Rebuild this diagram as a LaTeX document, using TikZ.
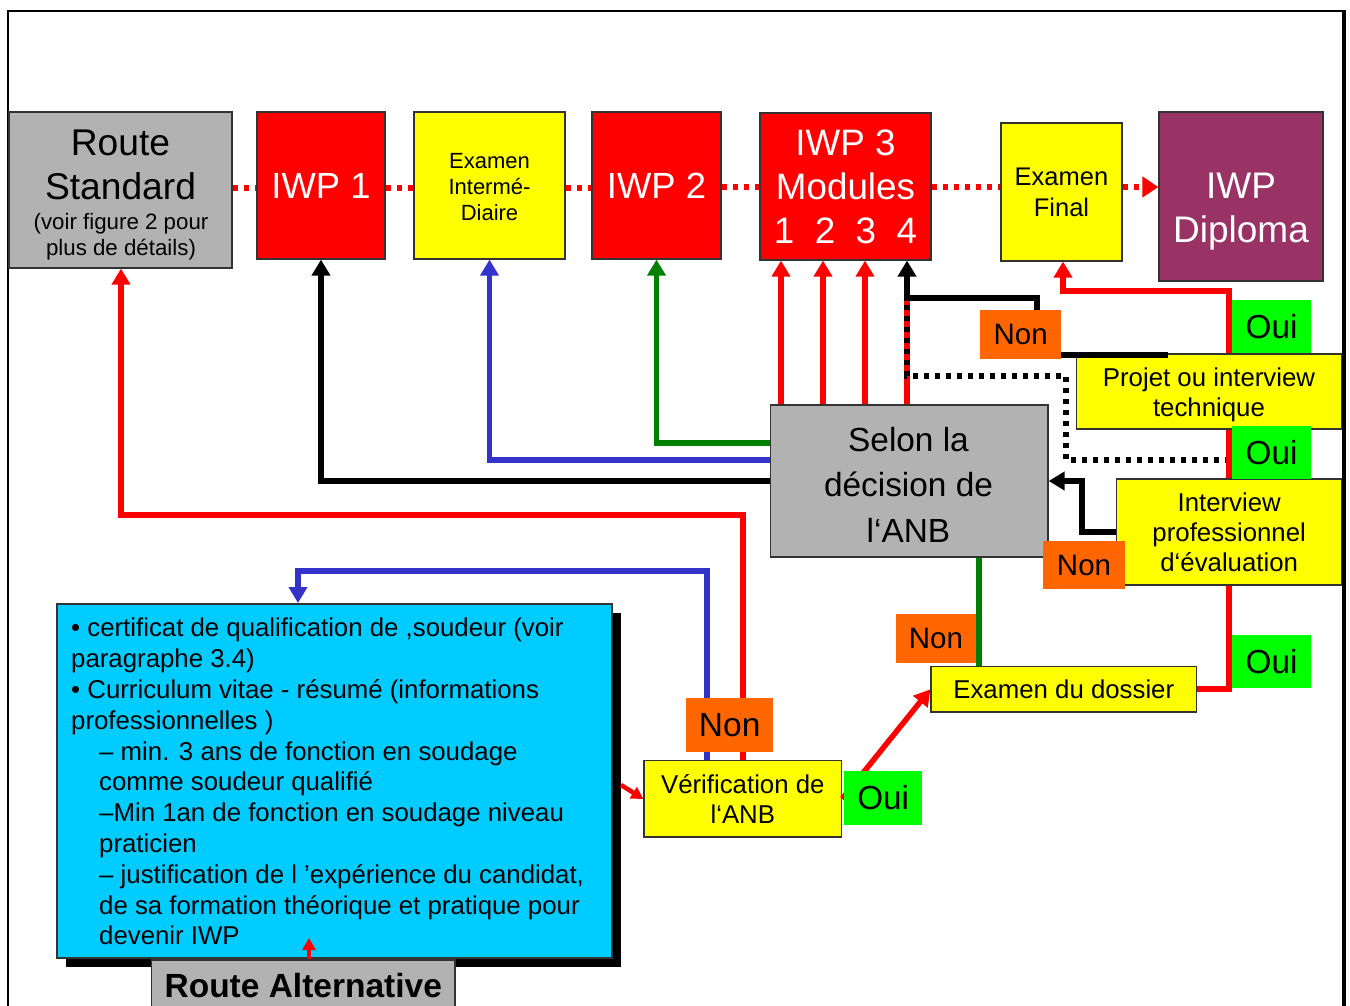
\documentclass[tikz,border=0pt]{standalone}
\usepackage{fontspec}
\setmainfont{Liberation Sans}
\usetikzlibrary{arrows.meta}
\definecolor{cred}{HTML}{FF0000}
\definecolor{cyel}{HTML}{FFFF00}
\definecolor{cgray}{HTML}{B2B2B2}
\definecolor{cpurp}{HTML}{993366}
\definecolor{ccyan}{HTML}{00CCFF}
\definecolor{corange}{HTML}{FF6600}
\definecolor{cgreen}{HTML}{00FF00}
\definecolor{cdkgreen}{HTML}{008000}
\definecolor{cblue}{HTML}{3333CC}
\newcommand{\fsz}[2]{\fontsize{#1}{#2}\selectfont}
\begin{document}
\begin{tikzpicture}[x=1pt,y=-1pt,
  bx/.style={draw=black!80, line width=1.2pt, inner sep=0pt, align=center},
  txt/.style={inner sep=0pt, align=center},
  lbl/.style={inner sep=0pt, align=center},
  cline/.style={line width=5.5pt},
  arr/.style={-{Triangle[width=18pt,length=16pt]}},
  arrs/.style={-{Triangle[width=13pt,length=12pt]}},
  rdots/.style={line width=6.5pt, cred, dash pattern=on 5.5pt off 5.5pt},
  kdots/.style={line width=5.5pt, black, dash pattern=on 5.5pt off 5.5pt}]
\useasboundingbox (0,0) rectangle (1350,1005);
\fill[white] (0,0) rectangle (1350,1005);
% frame
\draw[line width=2pt] (8,1010) -- (8,11) -- (1344,11);
\draw[line width=4pt] (1344,10) -- (1344,1010);

% ---------- boxes (top row)
\node[bx, fill=cgray, minimum width=223pt, minimum height=156pt] (rs) at (120.5,190) {};
\node[txt, font=\fsz{37.2}{44}] (rsT) at (120.5,165) {Route\\Standard};
\node[txt, font=\fsz{22.3}{26}] (rsS) at (121,237) {(voir figure 2 pour\\plus de détails)};
\node[bx, fill=cred, text=white, font=\fsz{36.4}{44}, minimum width=128pt, minimum height=147pt] (iwp1) at (321,185.5) {IWP 1};
\node[bx, fill=cyel, minimum width=151pt, minimum height=147pt] (ex1) at (489.5,185.5) {};
\node[txt, font=\fsz{22}{26}] (ex1T) at (489.5,187.5) {Examen\\Intermé-\\Diaire};
\node[bx, fill=cred, text=white, font=\fsz{36.4}{44}, minimum width=129pt, minimum height=147pt] (iwp2) at (656.5,185.5) {IWP 2};
\node[bx, fill=cred, text=white, font=\fsz{36.8}{44}, minimum width=171pt, minimum height=147pt] (iwp3) at (845.5,186.5) {IWP 3\\Modules\\1\ \ 2\ \ 3\ \ 4};
\node[bx, fill=cyel, font=\fsz{25.5}{31}, minimum width=121pt, minimum height=138pt] (exf) at (1061.5,192) {Examen\\Final};
\node[bx, fill=cpurp, minimum width=164pt, minimum height=169pt] (dip) at (1241,196.5) {};
\node[txt, text=white, font=\fsz{37}{44}] (dipT) at (1241,212) {IWP\\Diploma};

% ---------- other boxes
\node[bx, fill=cgray, minimum width=277.5pt, minimum height=152pt] (sel) at (909.3,481) {};
\node[txt, font=\fsz{33.4}{45.5}] (selT) at (908.5,484.5) {Selon la\\décision de\\l‘ANB};
\node[bx, fill=cyel, minimum width=265pt, minimum height=75pt] (proj) at (1209.2,391.5) {};
\node[txt, font=\fsz{25.8}{30}] (projT) at (1209,394.5) {Projet ou interview\\technique};
\node[bx, fill=cyel, font=\fsz{25.8}{30}, minimum width=225pt, minimum height=106pt] (intv) at (1229.2,532) {Interview\\professionnel\\d‘évaluation};
\node[bx, fill=cyel, font=\fsz{25.8}{30}, minimum width=265.7pt, minimum height=45.3pt] (doss) at (1063.8,689.3) {Examen du dossier};
\node[bx, fill=cyel, font=\fsz{25.8}{30}, minimum width=197.6pt, minimum height=76.3pt] (verif) at (742.8,798.8) {Vérification de\\l‘ANB};

% ---------- connectors
\draw[rdots] (rs.east |- 0,188) -- (iwp1.west |- 0,188);
\draw[rdots] (iwp1.east |- 0,188) -- (ex1.west |- 0,188);
\draw[rdots] (ex1.east |- 0,188) -- (iwp2.west |- 0,188);
\draw[rdots] (iwp2.east |- 0,187) -- (iwp3.west |- 0,187);
\draw[rdots] (iwp3.east |- 0,187) -- (exf.west |- 0,187);
\draw[rdots, -{Triangle[width=20pt,length=16pt]}] (exf.east |- 0,187) -- (dip.west |- 0,187);

\draw[cline, cdkgreen, arr] (sel.west |- 0,443) -| (iwp2.south);
\draw[cline, cblue, arr] (sel.west |- 0,460) -| (ex1.south);
\draw[cline, black, arr] (sel.west |- 0,481) -| (iwp1.south);
\draw[cline, cred, arr] (sel.north -| 781,0) -- (iwp3.south -| 781,0);
\draw[cline, cred, arr] (sel.north -| 823,0) -- (iwp3.south -| 823,0);
\draw[cline, cred, arr] (sel.north -| 865,0) -- (iwp3.south -| 865,0);
\draw[cline, cred] (sel.north -| 907,0) -- (907,298);
\draw[cline, black, arr] (1037,312) |- (907,298) -- (iwp3.south -| 907,0);
\draw[kdots] (1230,460) -| (1066,376) -- (907,376) -- (907,298);

\draw[cline, cred, arr] (proj.north -| 1229,0) |- (1063,291) -- (exf.south -| 1063,0);
\draw[cline, cred] (intv.north -| 1229,0) -- (proj.south -| 1229,0);
\draw[cline, cred] (doss.east |- 0,689) -| (intv.south -| 1229,0);
\draw[cline, black, arr] (intv.west |- 0,532) -| (1082,481) -- (sel.east |- 0,481);
\draw[cline, cdkgreen] (doss.north -| 979,0) -- (sel.south -| 979,0);
\draw[cline, cred, arr] (verif.east) -- (doss.west);
\draw[cline, cred, arr] (verif.north -| 743,0) |- (121,515) -- (rs.south -| 121,0);

% ---------- requirements box
\node[fill=black, inner sep=0pt, minimum width=555pt, minimum height=354pt] (shadow) at (343.5,790) {};
\draw[cline, cblue, arr] (verif.north -| 707,0) |- (298,571) -- (298,603);
\node[bx, fill=ccyan, minimum width=555pt, minimum height=354pt] (req) at (334.5,781) {};
\node[anchor=north west, inner sep=0pt, align=left, font=\fsz{25.8}{30.8}] (reqT) at (71,618) {%
• certificat de qualification de ,soudeur (voir\\
paragraphe 3.4)\\
• Curriculum vitae - résumé (informations\\
professionnelles )\\
\hspace*{28pt}– min. 3 ans de fonction en soudage\\
\hspace*{28pt}comme soudeur qualifié\\
\hspace*{28pt}–Min 1an de fonction en soudage niveau\\
\hspace*{28pt}praticien\\
\hspace*{28pt}– justification de l ’expérience du candidat,\\
\hspace*{28pt}de sa formation théorique et pratique pour\\
\hspace*{28pt}devenir IWP};
\node[bx, fill=cgray, font=\fsz{33.5}{40}\bfseries, minimum width=303.3pt, minimum height=52pt] (ra) at (303.3,986) {Route Alternative};
\draw[line width=4pt, cred, arrs] (ra.north -| 309,0) -- (309,938);
\draw[line width=4.5pt, cred, arrs] (621,785) -- (verif.west |- 0,799);

% ---------- labels
\node[lbl, fill=corange, font=\fsz{29.5}{34}, minimum width=80.5pt, minimum height=49.5pt] (non1) at (1020.7,334.7) {Non};
\node[lbl, fill=corange, font=\fsz{29.5}{34}, minimum width=82pt, minimum height=48pt] (non2) at (1084,565) {Non};
\node[lbl, fill=corange, font=\fsz{29.5}{34}, minimum width=80pt, minimum height=49pt] (non3) at (936,638.5) {Non};
\node[lbl, fill=corange, font=\fsz{33.5}{38}, minimum width=87.5pt, minimum height=54pt] (non4) at (729.7,725) {Non};
\node[lbl, fill=cgreen, font=\fsz{33.3}{38}, minimum width=79pt, minimum height=53pt] (oui1) at (1271.5,326.5) {Oui};
\node[lbl, fill=cgreen, font=\fsz{33.3}{38}, minimum width=79pt, minimum height=53pt] (oui2) at (1271.5,452.5) {Oui};
\node[lbl, fill=cgreen, font=\fsz{33.3}{38}, minimum width=79pt, minimum height=53pt] (oui3) at (1271.5,661.5) {Oui};
\node[lbl, fill=cgreen, font=\fsz{33.3}{38}, minimum width=77.5pt, minimum height=54pt] (oui4) at (883.2,798) {Oui};
\draw[cline, black] (non1.east |- 0,355) -- (1168,355);
\end{tikzpicture}
\end{document}
